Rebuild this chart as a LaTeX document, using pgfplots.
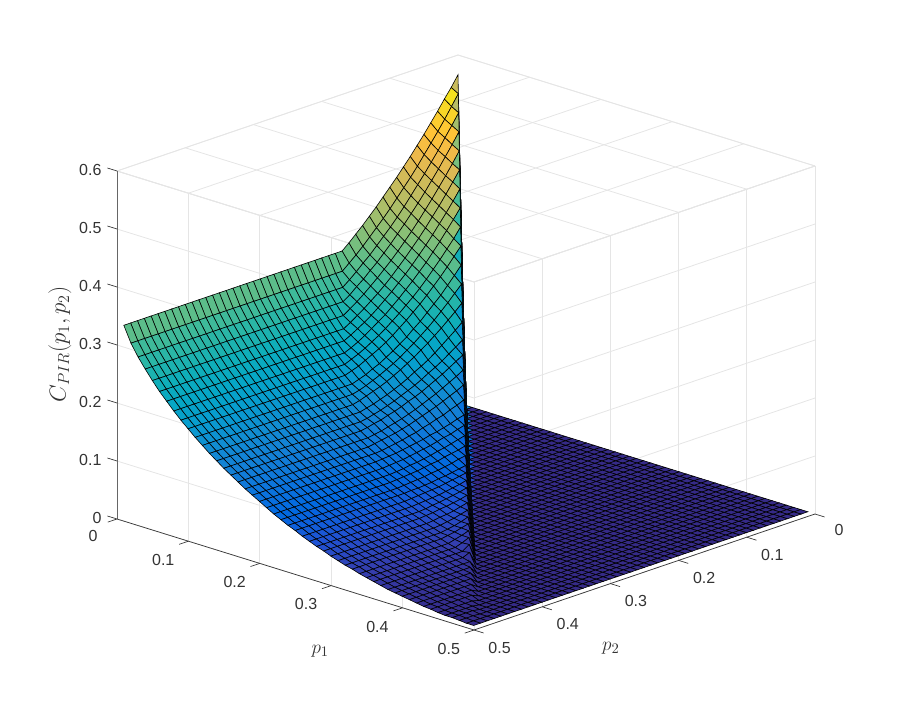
\documentclass[border=0pt]{standalone}
\usepackage{fontspec}
\setmainfont{Liberation Sans}
\usepackage{pgfplots}
\pgfplotsset{compat=1.18}
\pgfplotsset{colormap={parula}{rgb=(.2081,.1663,.5292) rgb=(.2081,.2386,.6771) rgb=(.1253,.3242,.8303) rgb=(.0060,.4086,.8828) rgb=(.0498,.4586,.8641) rgb=(.0779,.5040,.8384) rgb=(.0641,.5570,.8240) rgb=(.0265,.6137,.8135) rgb=(.0228,.6535,.7768) rgb=(.0590,.6838,.7254) rgb=(.1453,.7098,.6646) rgb=(.2586,.7317,.5954) rgb=(.3953,.7459,.5244) rgb=(.5300,.7491,.4661) rgb=(.6473,.7456,.4188) rgb=(.7525,.7384,.3768) rgb=(.8507,.7299,.3360) rgb=(.9450,.7261,.2886) rgb=(.9990,.7653,.2164) rgb=(.9789,.8271,.1633) rgb=(.9589,.8949,.1132) rgb=(.9763,.9831,.0538)}}
\definecolor{tk}{gray}{.2}
\begin{document}
\begin{tikzpicture}
\path[use as bounding box] (0,0) rectangle (675pt,532.5pt);
\begin{axis}[
 at={(343.5pt,230.25pt)}, anchor=origin, clip=false,
 x={(535.5pt,-166.5pt)}, y={(-511.5pt,-174pt)}, z={(0pt,435pt)},
 xmin=0,xmax=.5,ymin=0,ymax=.5,zmin=0,zmax=.6,
 xtick={0,.1,.2,.3,.4,.5}, ytick={0,.1,.2,.3,.4,.5}, ztick={0,.1,.2,.3,.4,.5,.6},
 xticklabels={0,0.1,0.2,0.3,0.4,0.5}, yticklabels={0,0.1,0.2,0.3,0.4,0.5}, zticklabels={0,0.1,0.2,0.3,0.4,0.5,0.6},
 tick label style={font=\fontsize{12}{12}\selectfont,text=tk},
 xticklabel style={xshift=-5.5pt,yshift=-2.5pt}, yticklabel style={xshift=5.5pt,yshift=-1.6pt}, zticklabel style={xshift=-1.5pt,yshift=3pt},
 tick pos=left,
 tick align=outside, major tick length=7pt, tick style={draw=none},
 axis line style={gray!20,line width=.6pt},
 grid=major, grid style={gray!20,line width=.6pt},
 xlabel={$p_1$}, ylabel={$p_2$}, zlabel={$C_{PIR}(p_1,p_2)$},
 xlabel style={font=\fontsize{15}{15}\selectfont,text=tk,at={(axis cs:.4327,.655,0)},anchor=center},
 ylabel style={font=\fontsize{15}{15}\selectfont,text=tk,at={(axis cs:.64,.446,0)},anchor=center},
 zlabel style={font=\fontsize{17}{17}\selectfont,text=tk,xshift=1pt,yshift=-1.5pt},
 point meta min=0, point meta max=.566, colormap name=parula,
]
\addplot3[surf, z buffer=none, mesh/ordering=y varies, mesh/rows=50, mesh/cols=50, faceted color=black, line width=.45pt]
 table[comment chars={!}, x expr={0.01*floor((\coordindex+0.5)/50)}, y expr={0.01*mod(\coordindex,50)}, z index=0, header=false] {
.566
.548
.532
.515
.499
.483
.468
.453
.439
.425
!
.412
.399
.386
.374
.362
.351
.340
.330
.330
.330
!
.330
.330
.330
.330
.330
.330
.330
.330
.330
.330
!
.330
.330
.330
.330
.330
.330
.330
.330
.330
.330
!
.330
.330
.330
.330
.330
.330
.330
.330
.330
.330

0
.541
.523
.505
.488
.472
.456
.440
.425
.411
!
.397
.383
.370
.358
.346
.334
.323
.313
.303
.303
!
.303
.303
.303
.303
.303
.303
.303
.303
.303
.303
!
.303
.303
.303
.303
.303
.303
.303
.303
.303
.303
!
.303
.303
.303
.303
.303
.303
.303
.303
.303
.303

0
0
.516
.498
.481
.463
.447
.431
.416
.401
!
.386
.372
.359
.347
.335
.323
.313
.302
.292
.283
!
.283
.283
.283
.283
.283
.283
.283
.283
.283
.283
!
.283
.283
.283
.283
.283
.283
.283
.283
.283
.283
!
.283
.283
.283
.283
.283
.283
.283
.283
.283
.283

0
0
0
.491
.473
.456
.439
.423
.407
.392
!
.378
.364
.351
.338
.326
.314
.304
.293
.284
.274
!
.266
.266
.266
.266
.266
.266
.266
.266
.266
.266
!
.266
.266
.266
.266
.266
.266
.266
.266
.266
.266
!
.266
.266
.266
.266
.266
.266
.266
.266
.266
.266

0
0
0
0
.466
.448
.431
.415
.399
.384
!
.369
.355
.342
.329
.317
.306
.295
.285
.275
.266
!
.258
.250
.250
.250
.250
.250
.250
.250
.250
.250
!
.250
.250
.250
.250
.250
.250
.250
.250
.250
.250
!
.250
.250
.250
.250
.250
.250
.250
.250
.250
.250

0
0
0
0
0
.441
.424
.407
.391
.376
!
.361
.347
.334
.321
.309
.297
.286
.276
.267
.258
!
.250
.242
.235
.235
.235
.235
.235
.235
.235
.235
!
.235
.235
.235
.235
.235
.235
.235
.235
.235
.235
!
.235
.235
.235
.235
.235
.235
.235
.235
.235
.235

0
0
0
0
0
0
.416
.399
.383
.368
!
.353
.339
.326
.313
.301
.290
.279
.269
.259
.250
!
.242
.235
.228
.222
.222
.222
.222
.222
.222
.222
!
.222
.222
.222
.222
.222
.222
.222
.222
.222
.222
!
.222
.222
.222
.222
.222
.222
.222
.222
.222
.222

0
0
0
0
0
0
0
.391
.375
.360
!
.345
.331
.317
.305
.293
.282
.271
.261
.251
.243
!
.235
.227
.220
.214
.209
.209
.209
.209
.209
.209
!
.209
.209
.209
.209
.209
.209
.209
.209
.209
.209
!
.209
.209
.209
.209
.209
.209
.209
.209
.209
.209

0
0
0
0
0
0
0
0
.366
.350
!
.336
.322
.309
.296
.284
.273
.263
.253
.244
.235
!
.227
.220
.213
.207
.202
.197
.197
.197
.197
.197
!
.197
.197
.197
.197
.197
.197
.197
.197
.197
.197
!
.197
.197
.197
.197
.197
.197
.197
.197
.197
.197

0
0
0
0
0
0
0
0
0
.341
!
.327
.313
.300
.288
.276
.265
.255
.245
.236
.227
!
.219
.212
.206
.200
.194
.190
.186
.186
.186
.186
!
.186
.186
.186
.186
.186
.186
.186
.186
.186
.186
!
.186
.186
.186
.186
.186
.186
.186
.186
.186
.186

0
0
0
0
0
0
0
0
0
0
!
.316
.302
.289
.276
.265
.254
.243
.234
.224
.216
!
.208
.201
.194
.189
.183
.179
.175
.175
.175
.175
!
.175
.175
.175
.175
.175
.175
.175
.175
.175
.175
!
.175
.175
.175
.175
.175
.175
.175
.175
.175
.175

0
0
0
0
0
0
0
0
0
0
!
0
.291
.279
.267
.256
.245
.235
.226
.217
.209
!
.201
.194
.188
.182
.177
.172
.168
.165
.165
.165
!
.165
.165
.165
.165
.165
.165
.165
.165
.165
.165
!
.165
.165
.165
.165
.165
.165
.165
.165
.165
.165

0
0
0
0
0
0
0
0
0
0
!
0
0
.266
.255
.245
.235
.226
.217
.209
.201
!
.194
.187
.181
.175
.170
.166
.162
.158
.155
.155
!
.155
.155
.155
.155
.155
.155
.155
.155
.155
.155
!
.155
.155
.155
.155
.155
.155
.155
.155
.155
.155

0
0
0
0
0
0
0
0
0
0
!
0
0
0
.241
.231
.222
.213
.204
.196
.189
!
.183
.176
.170
.165
.160
.156
.152
.149
.146
.146
!
.146
.146
.146
.146
.146
.146
.146
.146
.146
.146
!
.146
.146
.146
.146
.146
.146
.146
.146
.146
.146

0
0
0
0
0
0
0
0
0
0
!
0
0
0
0
.218
.210
.202
.194
.187
.181
!
.174
.168
.163
.158
.153
.149
.145
.142
.139
.137
!
.137
.137
.137
.137
.137
.137
.137
.137
.137
.137
!
.137
.137
.137
.137
.137
.137
.137
.137
.137
.137

0
0
0
0
0
0
0
0
0
0
!
0
0
0
0
0
.200
.193
.186
.179
.173
!
.167
.161
.156
.152
.147
.143
.140
.136
.134
.131
!
.129
.129
.129
.129
.129
.129
.129
.129
.129
.129
!
.129
.129
.129
.129
.129
.129
.129
.129
.129
.129

0
0
0
0
0
0
0
0
0
0
!
0
0
0
0
0
0
.182
.175
.169
.163
!
.157
.152
.147
.142
.138
.134
.131
.128
.125
.123
!
.121
.121
.121
.121
.121
.121
.121
.121
.121
.121
!
.121
.121
.121
.121
.121
.121
.121
.121
.121
.121

0
0
0
0
0
0
0
0
0
0
!
0
0
0
0
0
0
0
.164
.158
.153
!
.148
.143
.139
.135
.131
.127
.124
.121
.119
.117
!
.115
.113
.113
.113
.113
.113
.113
.113
.113
.113
!
.113
.113
.113
.113
.113
.113
.113
.113
.113
.113

0
0
0
0
0
0
0
0
0
0
!
0
0
0
0
0
0
0
0
.146
.141
!
.137
.132
.129
.125
.122
.118
.116
.113
.111
.109
!
.107
.106
.106
.106
.106
.106
.106
.106
.106
.106
!
.106
.106
.106
.106
.106
.106
.106
.106
.106
.106

0
0
0
0
0
0
0
0
0
0
!
0
0
0
0
0
0
0
0
0
.128
!
.125
.121
.118
.115
.113
.110
.108
.106
.104
.102
!
.101
.100
.099
.099
.099
.099
.099
.099
.099
.099
!
.099
.099
.099
.099
.099
.099
.099
.099
.099
.099

0
0
0
0
0
0
0
0
0
0
!
0
0
0
0
0
0
0
0
0
0
!
.118
.115
.111
.109
.106
.103
.101
.099
.097
.095
!
.094
.093
.092
.092
.092
.092
.092
.092
.092
.092
!
.092
.092
.092
.092
.092
.092
.092
.092
.092
.092

0
0
0
0
0
0
0
0
0
0
!
0
0
0
0
0
0
0
0
0
0
!
0
.108
.105
.102
.099
.097
.094
.092
.090
.089
!
.087
.086
.085
.085
.085
.085
.085
.085
.085
.085
!
.085
.085
.085
.085
.085
.085
.085
.085
.085
.085

0
0
0
0
0
0
0
0
0
0
!
0
0
0
0
0
0
0
0
0
0
!
0
0
.098
.095
.093
.091
.088
.087
.085
.083
!
.082
.081
.080
.079
.079
.079
.079
.079
.079
.079
!
.079
.079
.079
.079
.079
.079
.079
.079
.079
.079

0
0
0
0
0
0
0
0
0
0
!
0
0
0
0
0
0
0
0
0
0
!
0
0
0
.089
.087
.084
.082
.080
.079
.077
!
.076
.075
.074
.073
.073
.073
.073
.073
.073
.073
!
.073
.073
.073
.073
.073
.073
.073
.073
.073
.073

0
0
0
0
0
0
0
0
0
0
!
0
0
0
0
0
0
0
0
0
0
!
0
0
0
0
.080
.078
.076
.074
.073
.071
!
.070
.069
.069
.068
.068
.068
.068
.068
.068
.068
!
.068
.068
.068
.068
.068
.068
.068
.068
.068
.068

0
0
0
0
0
0
0
0
0
0
!
0
0
0
0
0
0
0
0
0
0
!
0
0
0
0
0
.075
.073
.071
.069
.067
!
.066
.065
.064
.063
.062
.062
.062
.062
.062
.062
!
.062
.062
.062
.062
.062
.062
.062
.062
.062
.062

0
0
0
0
0
0
0
0
0
0
!
0
0
0
0
0
0
0
0
0
0
!
0
0
0
0
0
0
.070
.067
.065
.063
!
.061
.060
.059
.058
.057
.057
.057
.057
.057
.057
!
.057
.057
.057
.057
.057
.057
.057
.057
.057
.057

0
0
0
0
0
0
0
0
0
0
!
0
0
0
0
0
0
0
0
0
0
!
0
0
0
0
0
0
0
.065
.062
.060
!
.058
.056
.055
.053
.052
.052
.052
.052
.052
.052
!
.052
.052
.052
.052
.052
.052
.052
.052
.052
.052

0
0
0
0
0
0
0
0
0
0
!
0
0
0
0
0
0
0
0
0
0
!
0
0
0
0
0
0
0
0
.060
.057
!
.055
.053
.052
.050
.049
.048
.048
.048
.048
.048
!
.048
.048
.048
.048
.048
.048
.048
.048
.048
.048

0
0
0
0
0
0
0
0
0
0
!
0
0
0
0
0
0
0
0
0
0
!
0
0
0
0
0
0
0
0
0
.055
!
.052
.049
.047
.046
.044
.043
.043
.043
.043
.043
!
.043
.043
.043
.043
.043
.043
.043
.043
.043
.043

0
0
0
0
0
0
0
0
0
0
!
0
0
0
0
0
0
0
0
0
0
!
0
0
0
0
0
0
0
0
0
0
!
.050
.047
.044
.042
.040
.039
.039
.039
.039
.039
!
.039
.039
.039
.039
.039
.039
.039
.039
.039
.039

0
0
0
0
0
0
0
0
0
0
!
0
0
0
0
0
0
0
0
0
0
!
0
0
0
0
0
0
0
0
0
0
!
0
.046
.042
.039
.037
.035
.035
.035
.035
.035
!
.035
.035
.035
.035
.035
.035
.035
.035
.035
.035

0
0
0
0
0
0
0
0
0
0
!
0
0
0
0
0
0
0
0
0
0
!
0
0
0
0
0
0
0
0
0
0
!
0
0
.042
.039
.036
.034
.032
.032
.032
.032
!
.032
.032
.032
.032
.032
.032
.032
.032
.032
.032

0
0
0
0
0
0
0
0
0
0
!
0
0
0
0
0
0
0
0
0
0
!
0
0
0
0
0
0
0
0
0
0
!
0
0
0
.038
.034
.031
.028
.028
.028
.028
!
.028
.028
.028
.028
.028
.028
.028
.028
.028
.028

0
0
0
0
0
0
0
0
0
0
!
0
0
0
0
0
0
0
0
0
0
!
0
0
0
0
0
0
0
0
0
0
!
0
0
0
0
.034
.029
.025
.025
.025
.025
!
.025
.025
.025
.025
.025
.025
.025
.025
.025
.025

0
0
0
0
0
0
0
0
0
0
!
0
0
0
0
0
0
0
0
0
0
!
0
0
0
0
0
0
0
0
0
0
!
0
0
0
0
0
.030
.022
.022
.022
.022
!
.022
.022
.022
.022
.022
.022
.022
.022
.022
.022

0
0
0
0
0
0
0
0
0
0
!
0
0
0
0
0
0
0
0
0
0
!
0
0
0
0
0
0
0
0
0
0
!
0
0
0
0
0
0
.024
.019
.019
.019
!
.019
.019
.019
.019
.019
.019
.019
.019
.019
.019

0
0
0
0
0
0
0
0
0
0
!
0
0
0
0
0
0
0
0
0
0
!
0
0
0
0
0
0
0
0
0
0
!
0
0
0
0
0
0
0
.016
.016
.016
!
.016
.016
.016
.016
.016
.016
.016
.016
.016
.016

0
0
0
0
0
0
0
0
0
0
!
0
0
0
0
0
0
0
0
0
0
!
0
0
0
0
0
0
0
0
0
0
!
0
0
0
0
0
0
0
0
.014
.014
!
.014
.014
.014
.014
.014
.014
.014
.014
.014
.014

0
0
0
0
0
0
0
0
0
0
!
0
0
0
0
0
0
0
0
0
0
!
0
0
0
0
0
0
0
0
0
0
!
0
0
0
0
0
0
0
0
0
.012
!
.012
.012
.012
.012
.012
.012
.012
.012
.012
.012

0
0
0
0
0
0
0
0
0
0
!
0
0
0
0
0
0
0
0
0
0
!
0
0
0
0
0
0
0
0
0
0
!
0
0
0
0
0
0
0
0
0
0
!
.010
.010
.010
.010
.010
.010
.010
.010
.010
.010

0
0
0
0
0
0
0
0
0
0
!
0
0
0
0
0
0
0
0
0
0
!
0
0
0
0
0
0
0
0
0
0
!
0
0
0
0
0
0
0
0
0
0
!
0
.008
.008
.008
.008
.008
.008
.008
.008
.008

0
0
0
0
0
0
0
0
0
0
!
0
0
0
0
0
0
0
0
0
0
!
0
0
0
0
0
0
0
0
0
0
!
0
0
0
0
0
0
0
0
0
0
!
0
0
.006
.006
.006
.006
.006
.006
.006
.006

0
0
0
0
0
0
0
0
0
0
!
0
0
0
0
0
0
0
0
0
0
!
0
0
0
0
0
0
0
0
0
0
!
0
0
0
0
0
0
0
0
0
0
!
0
0
0
.005
.005
.005
.005
.005
.005
.005

0
0
0
0
0
0
0
0
0
0
!
0
0
0
0
0
0
0
0
0
0
!
0
0
0
0
0
0
0
0
0
0
!
0
0
0
0
0
0
0
0
0
0
!
0
0
0
0
.003
.003
.003
.003
.003
.003

0
0
0
0
0
0
0
0
0
0
!
0
0
0
0
0
0
0
0
0
0
!
0
0
0
0
0
0
0
0
0
0
!
0
0
0
0
0
0
0
0
0
0
!
0
0
0
0
0
.002
.002
.002
.002
.002

0
0
0
0
0
0
0
0
0
0
!
0
0
0
0
0
0
0
0
0
0
!
0
0
0
0
0
0
0
0
0
0
!
0
0
0
0
0
0
0
0
0
0
!
0
0
0
0
0
0
.002
.002
.002
.002

0
0
0
0
0
0
0
0
0
0
!
0
0
0
0
0
0
0
0
0
0
!
0
0
0
0
0
0
0
0
0
0
!
0
0
0
0
0
0
0
0
0
0
!
0
0
0
0
0
0
0
.001
.001
.001

0
0
0
0
0
0
0
0
0
0
!
0
0
0
0
0
0
0
0
0
0
!
0
0
0
0
0
0
0
0
0
0
!
0
0
0
0
0
0
0
0
0
0
!
0
0
0
0
0
0
0
0
0
0

0
0
0
0
0
0
0
0
0
0
!
0
0
0
0
0
0
0
0
0
0
!
0
0
0
0
0
0
0
0
0
0
!
0
0
0
0
0
0
0
0
0
0
!
0
0
0
0
0
0
0
0
0
0
};
\draw[gray!80!black,line width=.6pt] (axis cs:0,.5,.6)--(axis cs:0,.5,0);
\draw[tk,line width=.5pt] (axis cs:0,.5,0)--(axis cs:.5,.5,0)--(axis cs:.5,0,0);
\draw[tk,line width=.5pt]
 (axis cs:0,.5,0)--(axis cs:0,.5135,0) (axis cs:.1,.5,0)--(axis cs:.1,.5135,0) (axis cs:.2,.5,0)--(axis cs:.2,.5135,0) (axis cs:.3,.5,0)--(axis cs:.3,.5135,0) (axis cs:.4,.5,0)--(axis cs:.4,.5135,0) (axis cs:.5,.5,0)--(axis cs:.5,.5135,0)
 (axis cs:.5,0,0)--(axis cs:.5135,0,0) (axis cs:.5,.1,0)--(axis cs:.5135,.1,0) (axis cs:.5,.2,0)--(axis cs:.5135,.2,0) (axis cs:.5,.3,0)--(axis cs:.5135,.3,0) (axis cs:.5,.4,0)--(axis cs:.5135,.4,0) (axis cs:.5,.5,0)--(axis cs:.5135,.5,0)
 (axis cs:0,.5,0)--(axis cs:-.0135,.5,0) (axis cs:0,.5,.1)--(axis cs:-.0135,.5,.1) (axis cs:0,.5,.2)--(axis cs:-.0135,.5,.2) (axis cs:0,.5,.3)--(axis cs:-.0135,.5,.3) (axis cs:0,.5,.4)--(axis cs:-.0135,.5,.4) (axis cs:0,.5,.5)--(axis cs:-.0135,.5,.5) (axis cs:0,.5,.6)--(axis cs:-.0135,.5,.6);
\end{axis}
\end{tikzpicture}
\end{document}
